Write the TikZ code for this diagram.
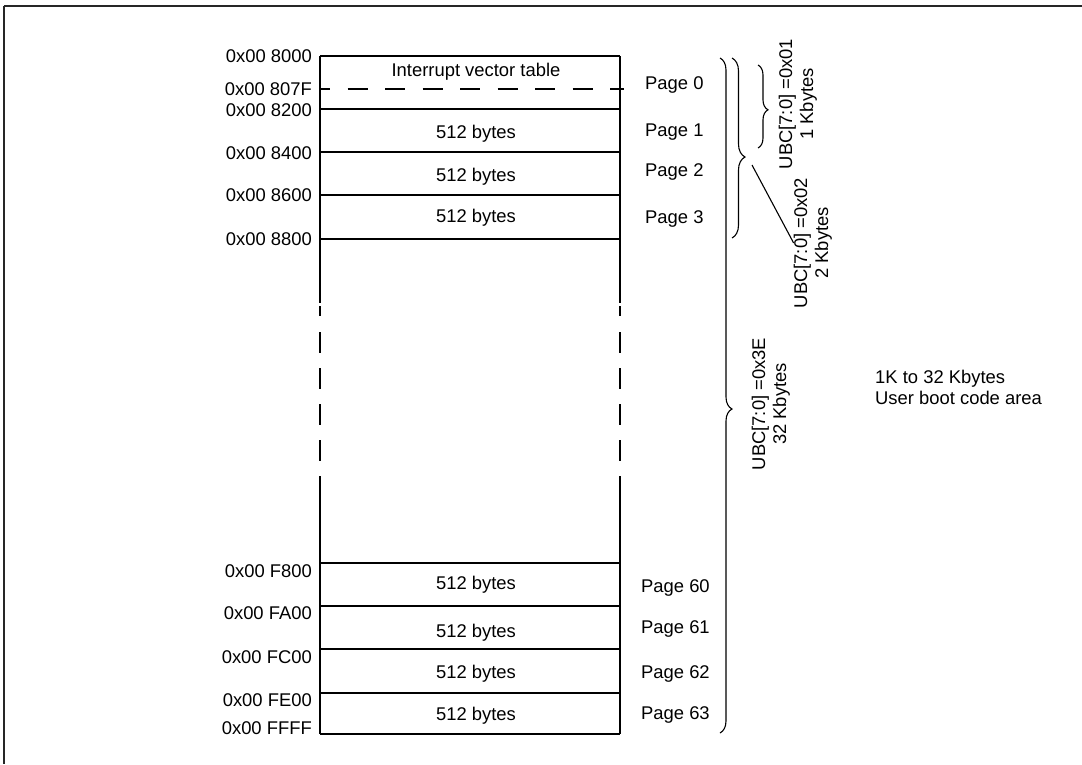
\documentclass[tikz,border=0pt]{standalone}
\usepackage{fontspec}
\setmainfont{Liberation Sans}
\usetikzlibrary{decorations.pathreplacing}

\begin{document}
\begin{tikzpicture}[x=1pt,y=-1pt,
every node/.style={font=\fontsize{18.4}{21}\selectfont,inner sep=0pt,text depth=0pt},
addr/.style={anchor=east},
pg/.style={anchor=west},
ubc/.style={rotate=90,align=center},
mem/.style={line width=1.4pt},
brc/.style 2 args={decorate,decoration={brace,amplitude=#1,aspect=#2},line width=1.1pt}]
\useasboundingbox (0,0) rectangle (1082,764);
\draw[line width=2.5pt,black!85] (4,6) -- (1082,6);
\draw[line width=1.5pt,black!85] (4,6) -- (4,764);
\foreach \y in {56,109,152,195,239,563,606,649,693,734}
  \draw[mem] (320,\y) -- (620,\y);
\foreach \x in {320,620}{
  \draw[mem] (\x,56) -- (\x,303);
  \draw[mem,dash pattern=on 10pt off 16pt on 21pt off 15pt on 21pt off 15pt on 21pt off 15pt on 21pt off 15pt] (\x,306) -- (\x,477);
  \draw[mem] (\x,477) -- (\x,734);
}
\draw[mem,dash pattern=on 20pt off 17.5pt,dash phase=10pt] (320,89) -- (624,89);
\foreach \y/\t in {56/8000,89/807F,110/8200,153/8400,195/8600,239/8800,571/F800,613/FA00,657/FC00,700/FE00,728/FFFF}
  \node[addr] (a\t) at (312,\y) {0x00 \t};
\node (ivt) at (476,70) {Interrupt vector table};
\foreach \y [count=\i] in {132,175,216,583,631,672,714}
  \node (b\i) at (476,\y) {512 bytes};
\foreach \y/\n in {83/0,130/1,170/2,217/3}
  \node[pg] (p\n) at (645,\y) {Page \n};
\foreach \y/\n in {586/60,627/61,672/62,713/63}
  \node[pg] (p\n) at (641,\y) {Page \n};
\draw[brc={12pt}{0.52}] (720,58) -- (720,733);
\draw[brc={13pt}{0.55}] (732,58) -- (732,238);
\draw[brc={10pt}{0.54}] (758,65) -- (758,148);
\node[ubc] (u1) at (796,104) {UBC[7:0] =0x01\\1 Kbytes};
\node[ubc] (u2) at (811,243) {UBC[7:0] =0x02\\2 Kbytes};
\node[ubc] (u3) at (769,404) {UBC[7:0] =0x3E\\32 Kbytes};
\coordinate (tip2) at (752,165);
\draw[line width=1.1pt] (tip2) -- (u2.north);
\node[anchor=west,align=left] (area) at (875,387) {1K to 32 Kbytes\\User boot code area};
\end{tikzpicture}
\end{document}
